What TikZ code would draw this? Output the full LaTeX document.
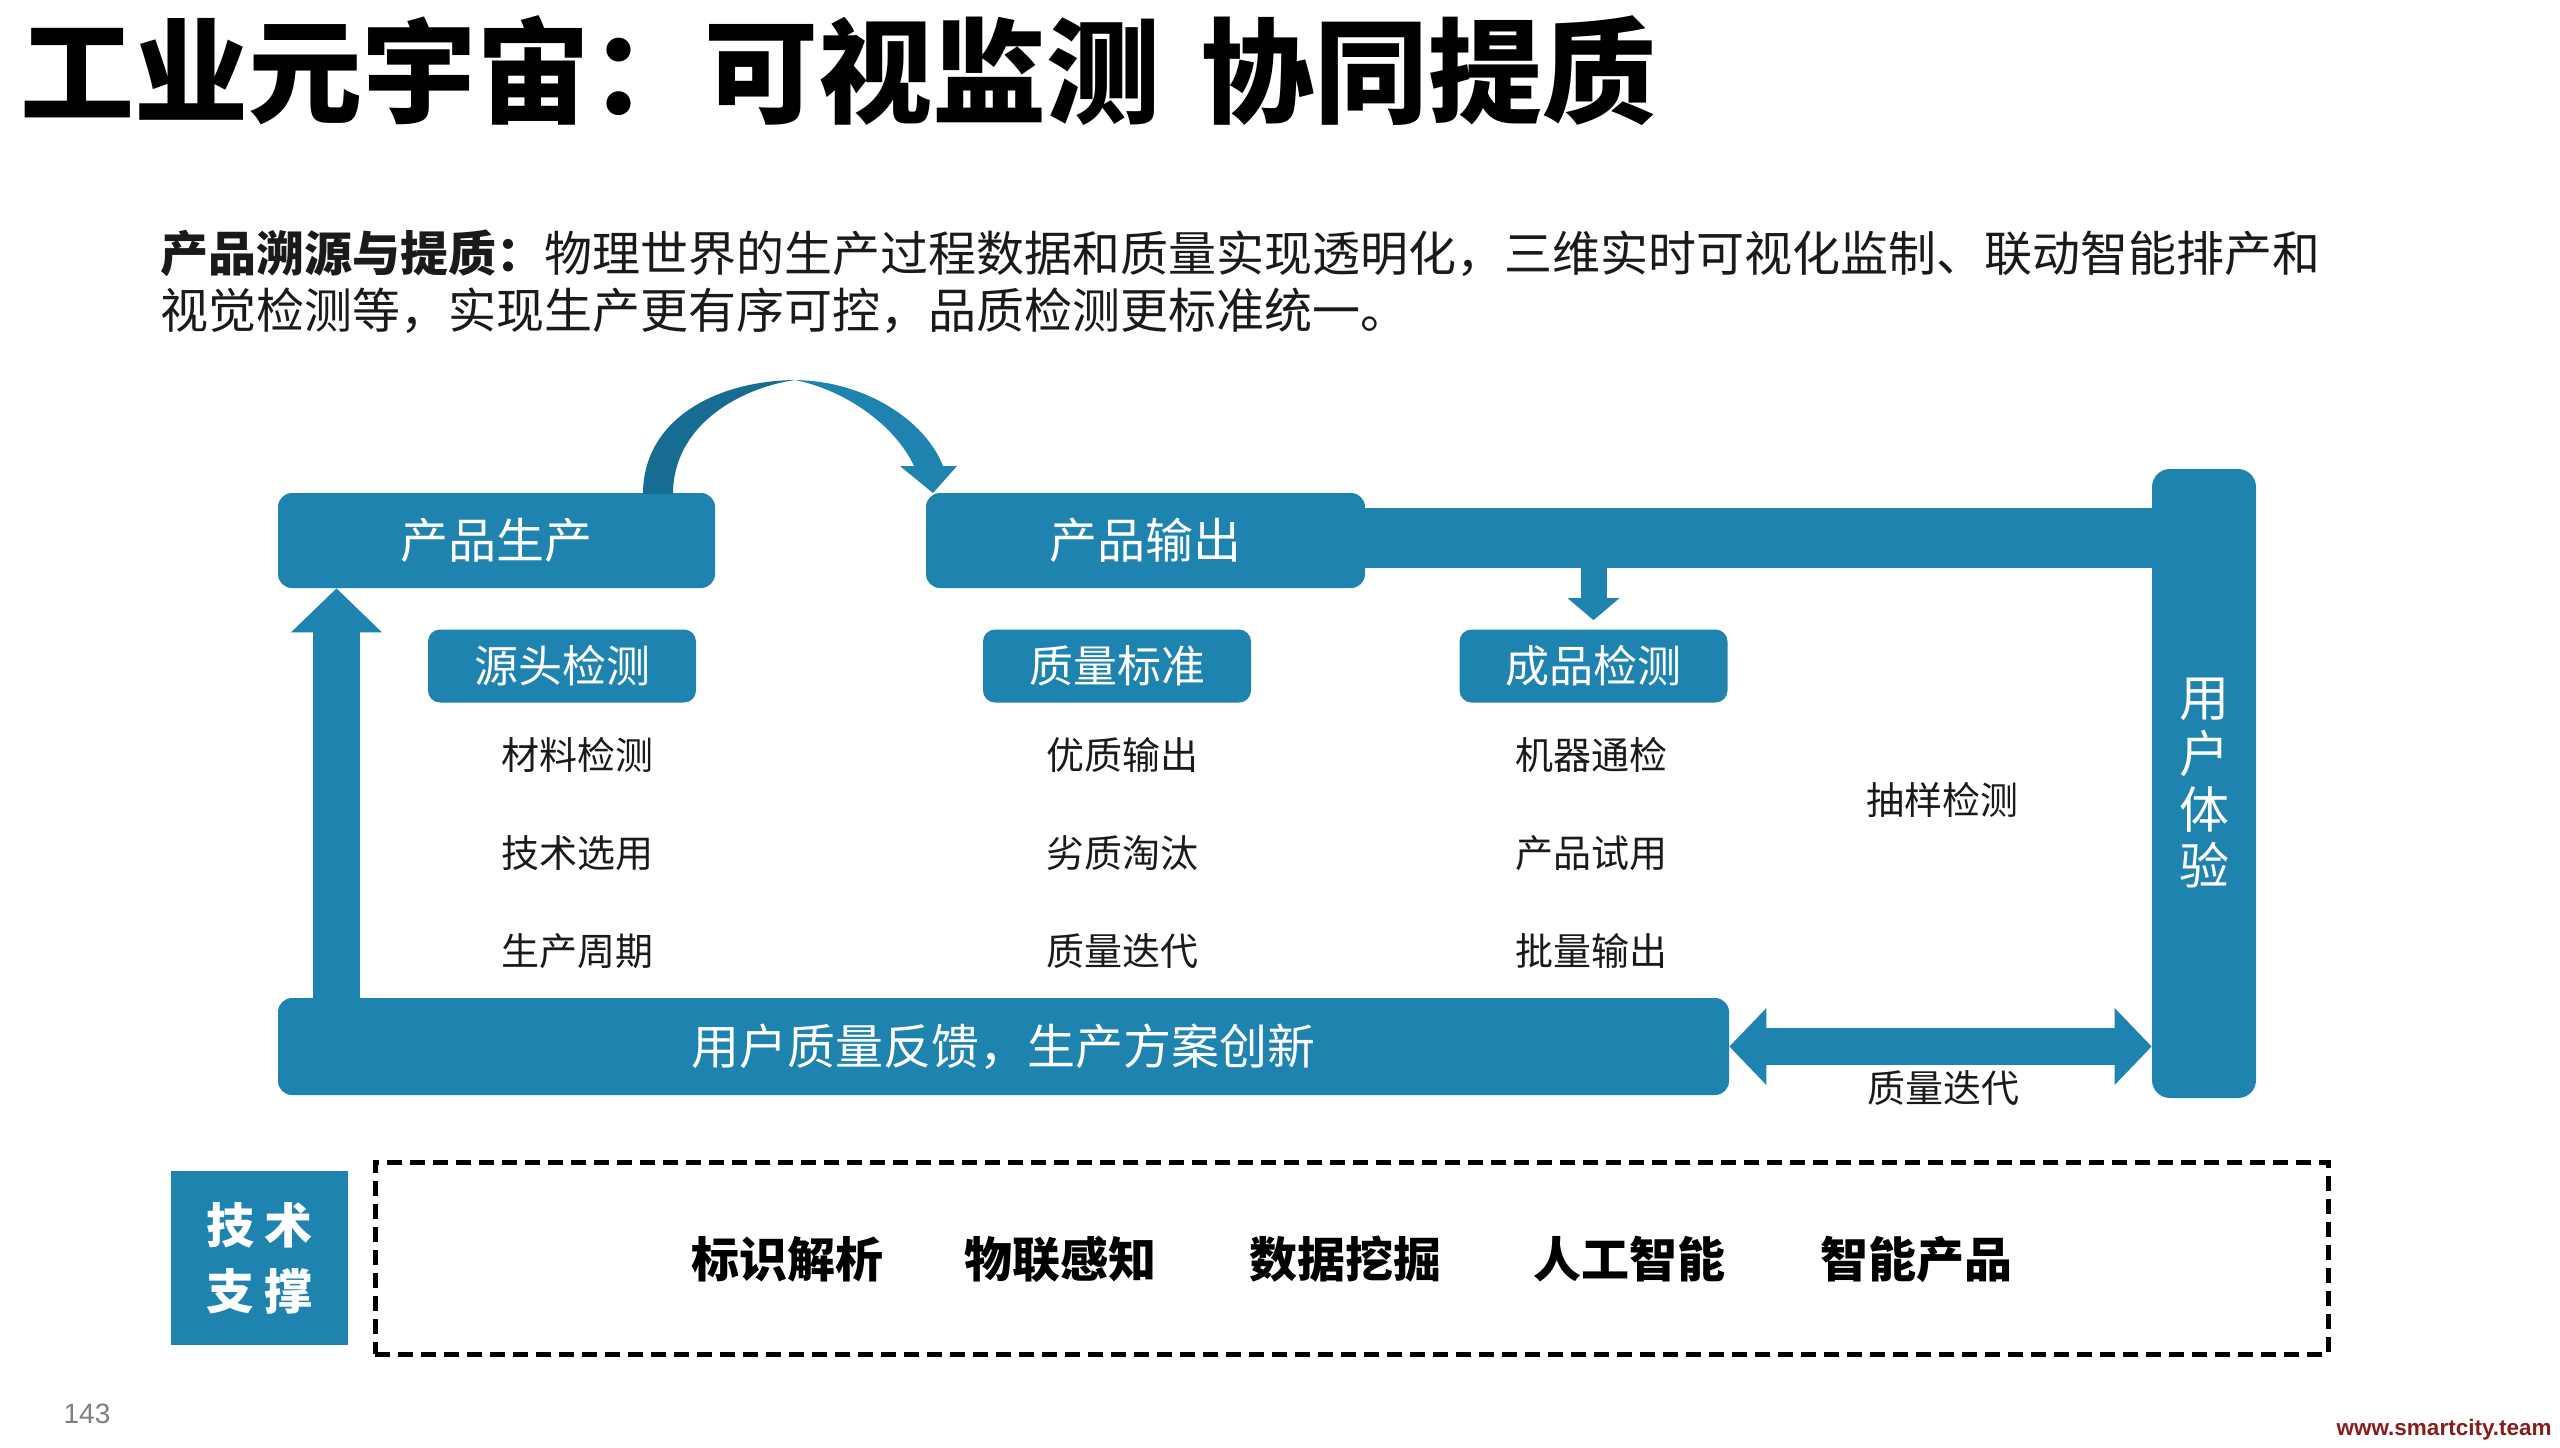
\documentclass[tikz,border=0pt]{standalone}
\usepackage{fontspec}
\setmainfont{Noto Sans CJK SC}
\newfontfamily\latinfont{Liberation Sans}
\usetikzlibrary{arrows.meta}
\definecolor{mblue}{HTML}{1F83AF}
\definecolor{dblue}{HTML}{176C92}
\definecolor{txt}{HTML}{1A1A1A}
\definecolor{wm}{HTML}{8B1C1C}
\newcommand\myfs[2]{\fontsize{#1pt}{#2pt}\selectfont}
\begin{document}
\begin{tikzpicture}[x=0.5pt,y=-0.5pt,
  mainbox/.style={fill=mblue, rounded corners=7pt, text=white, inner sep=0pt, font=\myfs{24}{26}},
  subbox/.style={fill=mblue, rounded corners=6pt, text=white, inner sep=0pt, minimum width=134pt, minimum height=36.5pt, font=\myfs{22}{24}},
  item/.style={text=txt, inner sep=0pt, font=\myfs{19}{20}},
  tech/.style={text=black, inner sep=0pt, font=\myfs{24}{26}\bfseries},
  blockarrow/.style={draw=mblue, line cap=butt}
]
\useasboundingbox[fill=white] (0,0) rectangle (2560,1447);

% title and intro
\node[anchor=base west, inner sep=0pt, font=\myfs{57}{57}\bfseries, text=black] (title) at (20,114) {工业元宇宙：可视监测\hspace{20pt}协同提质};
\node[anchor=base west, inner sep=0pt, font=\myfs{24}{28.5}, text=txt] (sub1) at (160,271) {\textbf{产品溯源与提质：}物理世界的生产过程数据和质量实现透明化，三维实时可视化监制、联动智能排产和};
\node[anchor=base west, inner sep=0pt, font=\myfs{24}{28.5}, text=txt] (sub2) at (160,328) {视觉检测等，实现生产更有序可控，品质检测更标准统一。};

% main boxes
\node[mainbox, minimum width=218.5pt, minimum height=47.5pt] (prod) at (496.5,540.5) {产品生产};
\node[mainbox, minimum width=219.5pt, minimum height=47.5pt] (out) at (1145.5,540.5) {产品输出};
\node[mainbox, rounded corners=9pt, minimum width=52pt, minimum height=314.5pt, align=center, font=\myfs{25}{28}] (ux) at (2204,783.5) {用\\户\\体\\验};
\node[mainbox, minimum width=725.5pt, minimum height=48.5pt] (fb) at (1003.5,1046.5) {用户质量反馈，生产方案创新};

% horizontal bar from output to user experience
\draw[blockarrow, line width=30pt] ([xshift=-2pt]out.east |- 0,538) -- ([xshift=2pt]ux.west |- 0,538);

% sub boxes
\node[subbox] (src) at (562,666) {源头检测};
\node[subbox] (qs) at (1117,666) {质量标准};
\node[subbox] (cj) at (1593.5,666) {成品检测};

% items
\node[item] (a1) at (577.5,755) {材料检测};
\node[item] (a2) at (577.5,853) {技术选用};
\node[item] (a3) at (577.5,951) {生产周期};
\node[item] (b1) at (1122,755) {优质输出};
\node[item] (b2) at (1122,853) {劣质淘汰};
\node[item] (b3) at (1122,951) {质量迭代};
\node[item] (c1) at (1591,755) {机器通检};
\node[item] (c2) at (1591,853) {产品试用};
\node[item] (c3) at (1591,951) {批量输出};
\node[item] (d1) at (1942,800) {抽样检测};
\node[item] (d2) at (1943,1088) {质量迭代};

% up arrow
\coordinate (upx) at (336.5,0);
\draw[blockarrow, line width=23.5pt, -{Triangle[line width=0pt,width=45.5pt,length=22pt]}] (fb.center -| upx) -- (prod.south -| upx);
% down arrow
\draw[blockarrow, line width=13pt, -{Triangle[line width=0pt,width=26pt,length=11pt]}] (cj.north |- out.center) -- ([yshift=4.5pt]cj.north);
% double arrow
\draw[blockarrow, line width=18.5pt, {Triangle[line width=0pt,width=38.5pt,length=18.5pt]}-{Triangle[line width=0pt,width=38.5pt,length=18.5pt]}] (fb.east) -- (ux.west |- fb.east);

% curved arrow from production to output
\fill[dblue] (643,494) .. controls (643,420) and (715,381) .. (795,380) .. controls (740,388) and (673,425) .. (673,494) -- cycle;
\fill[mblue] (795,380) .. controls (865,381) and (925,420) .. (943,466) -- (957,466) -- (933,493) -- (900,466) -- (914,466) .. controls (895,425) and (845,390) .. (795,380) -- cycle;

% technology support
\node[fill=mblue, minimum width=88.5pt, minimum height=87pt, inner sep=0pt, text=white, font=\myfs{24}{33}\bfseries, align=center] (ts) at (259.5,1258) {技\hspace{5pt}术\\支\hspace{5pt}撑};
\node[draw=black, dash pattern=on 7.5pt off 4pt, line width=2.5pt, minimum width=976.5pt, minimum height=96pt, inner sep=0pt] (tb) at (1351.5,1258) {};
\node[tech] (t1) at (787,1259) {标识解析};
\node[tech] (t2) at (1060,1259) {物联感知};
\node[tech] (t3) at (1345,1259) {数据挖掘};
\node[tech] (t4) at (1629,1259) {人工智能};
\node[tech] (t5) at (1916,1259) {智能产品};

% footer
\node[inner sep=0pt, font=\latinfont\myfs{14}{14}, text=black!50] (pg) at (87,1414) {143};
\node[anchor=east, inner sep=0pt, font=\latinfont\bfseries\myfs{11.25}{12}, text=wm] (wmk) at (2552,1430) {www.smartcity.team};
\end{tikzpicture}
\end{document}
